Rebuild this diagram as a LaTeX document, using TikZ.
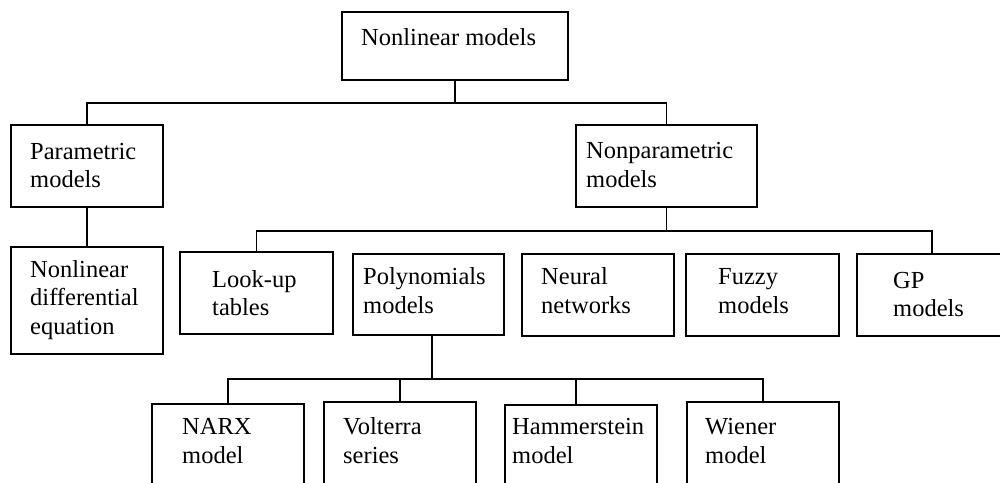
\documentclass[tikz,border=0pt]{standalone}
\usepackage{fontspec}
\setmainfont{Liberation Serif}
\begin{document}
\begin{tikzpicture}[x=1pt,y=-1pt,
  box/.style={draw,line width=1.8pt,inner sep=0pt,rectangle},
  % labels are placed by the baseline of their last line
  lbl/.style={anchor=base west,inner sep=0pt,align=left,
    font=\fontsize{24.5pt}{28.5pt}\selectfont},
  wire/.style={line width=1.8pt,line cap=rect}]
\clip (0,0) rectangle (1000,482);
\fill[white] (0,0) rectangle (1000,482);

% boxes
\node[box,minimum width=226,minimum height=68]  (root) at (455,46)    {};
\node[box,minimum width=152,minimum height=82]  (par)  at (87,166)    {};
\node[box,minimum width=181,minimum height=82]  (np)   at (666.5,166) {};
\node[box,minimum width=152,minimum height=107] (nld)  at (87,300.5)  {};
\node[box,minimum width=153,minimum height=82]  (lut)  at (256.5,293) {};
\node[box,minimum width=151,minimum height=81]  (poly) at (428.5,294.5) {};
\node[box,minimum width=152,minimum height=82]  (nn)   at (598,295)   {};
\node[box,minimum width=153,minimum height=82]  (fz)   at (762.5,295) {};
\node[box,minimum width=150,minimum height=82]  (gp)   at (932,295)   {};
\node[box,minimum width=152,minimum height=106] (narx) at (228,457)   {};
\node[box,minimum width=152,minimum height=108] (volt) at (400,456)   {};
\node[box,minimum width=152,minimum height=105] (ham)  at (581,457.5) {};
\node[box,minimum width=152,minimum height=108] (wien) at (763,456)   {};

% labels
\node[lbl] (root-t) at (361,45)    {Nonlinear models};
\node[lbl] (par-t)  at (30,187.5)  {Parametric\\models};
\node[lbl] (np-t)   at (586,187)   {Nonparametric\\models};
\node[lbl] (nld-t)  at (30,334)    {Nonlinear\\differential\\equation};
\node[lbl] (lut-t)  at (212,315.5) {Look-up\\tables};
\node[lbl] (poly-t) at (363,313)   {Polynomials\\models};
\node[lbl] (nn-t)   at (541,313)   {Neural\\networks};
\node[lbl] (fz-t)   at (718,313)   {Fuzzy\\models};
\node[lbl] (gp-t)   at (893,316.5) {GP\\models};
\node[lbl] (narx-t) at (182,463)   {NARX\\model};
\node[lbl] (volt-t) at (343,463)   {Volterra\\series};
\node[lbl] (ham-t)  at (512,463)   {Hammerstein\\model};
\node[lbl] (wien-t) at (705,463)   {Wiener\\model};

% bus levels
\coordinate (b1) at (0,103);
\coordinate (b2) at (0,231);
\coordinate (b3) at (0,379);

% connectors
\draw[wire] (root.south) -- (root.south |- b1);
\draw[wire] (par.north) -- (par.north |- b1) -| (np.north);
\draw[wire] (par.south) -- (nld.north);
\draw[wire] (np.south) -- (np.south |- b2);
\draw[wire] (lut.north) -- (lut.north |- b2) -| (gp.north);
\coordinate (ps) at ([xshift=3.5pt]poly.south);
\draw[wire] (ps) -- (ps |- b3);
\draw[wire] (narx.north) -- (narx.north |- b3) -| (wien.north);
\draw[wire] (volt.north) -- (volt.north |- b3);
\coordinate (hn) at ([xshift=-5pt]ham.north);
\draw[wire] (hn) -- (hn |- b3);
\end{tikzpicture}
\end{document}
